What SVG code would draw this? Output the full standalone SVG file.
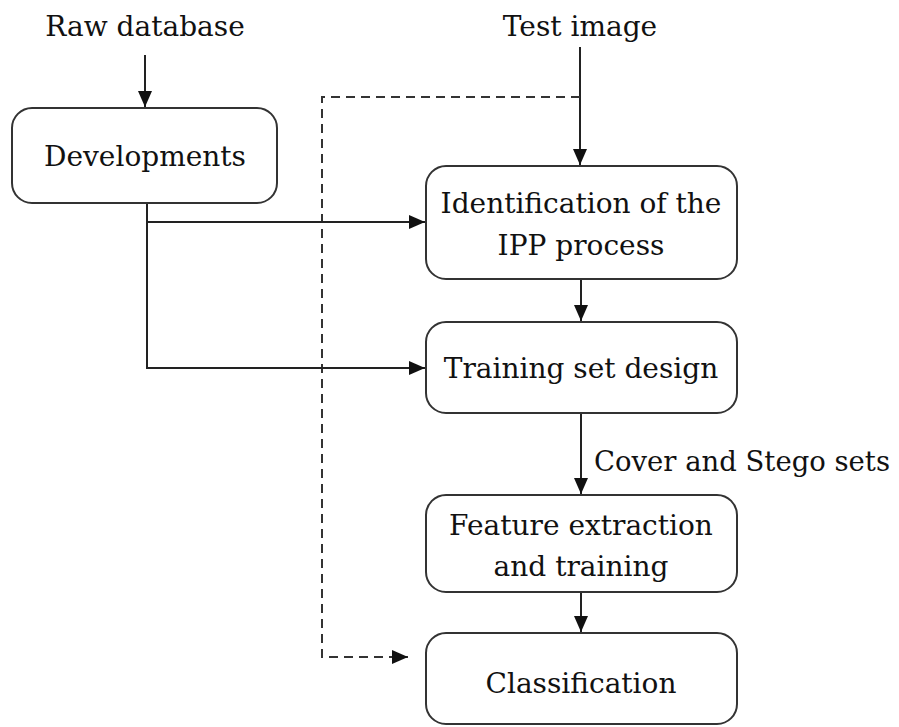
<svg xmlns="http://www.w3.org/2000/svg" width="899" height="727" viewBox="0 0 899 727">
<defs>
<style>
.box{fill:#fff;stroke:#333;stroke-width:2}
.t{font-family:"DejaVu Serif","Liberation Serif",serif;font-size:28px;fill:#111;text-anchor:middle}
.c{fill:none;stroke:#222;stroke-width:2}
.d{fill:none;stroke:#333;stroke-width:2;stroke-dasharray:9,6}
</style>
<marker id="ah" markerWidth="16" markerHeight="14" refX="16" refY="7" orient="auto" markerUnits="userSpaceOnUse">
<path d="M0,0 L16,7 L0,14 Z" fill="#111"/>
</marker>
</defs>
<rect width="899" height="727" fill="#fff"/>
<g id="raw"><text class="t" x="145" y="36">Raw database</text></g>
<g id="test"><text class="t" x="580" y="36">Test image</text></g>
<g id="connectors">
<line class="c" x1="145" y1="55" x2="145" y2="107" marker-end="url(#ah)"/>
<line class="c" x1="580" y1="47" x2="580" y2="165" marker-end="url(#ah)"/>
<polyline class="d" points="580,97 322,97 322,657 408,657" marker-end="url(#ah)"/>
<polyline class="c" points="147,203 147,222 425,222" marker-end="url(#ah)"/>
<polyline class="c" points="147,222 147,368 425,368" marker-end="url(#ah)"/>
<line class="c" x1="581" y1="279" x2="581" y2="321" marker-end="url(#ah)"/>
<line class="c" x1="581" y1="413" x2="581" y2="494" marker-end="url(#ah)"/>
<line class="c" x1="581" y1="592" x2="581" y2="632" marker-end="url(#ah)"/>
<text class="t" x="594" y="471" style="text-anchor:start" textLength="296" lengthAdjust="spacingAndGlyphs">Cover and Stego sets</text>
</g>
<g id="developments"><rect class="box" x="12" y="108" width="265" height="95" rx="20"/><text class="t" x="145" y="166">Developments</text></g>
<g id="identification"><rect class="box" x="426" y="166" width="311" height="113" rx="20"/><text class="t" x="581" y="213">Identification of the</text><text class="t" x="581" y="255">IPP process</text></g>
<g id="training"><rect class="box" x="426" y="322" width="311" height="91" rx="20"/><text class="t" x="581" y="378">Training set design</text></g>
<g id="feature"><rect class="box" x="426" y="495" width="311" height="97" rx="20"/><text class="t" x="581" y="535">Feature extraction</text><text class="t" x="581" y="576">and training</text></g>
<g id="classification"><rect class="box" x="426" y="633" width="311" height="91" rx="20"/><text class="t" x="581" y="693">Classification</text></g>
</svg>
